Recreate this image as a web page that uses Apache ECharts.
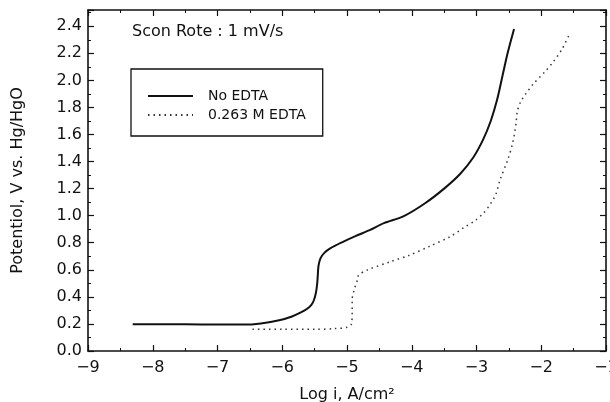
<!DOCTYPE html>
<html>
<head>
<meta charset="utf-8">
<script src="https://cdn.jsdelivr.net/npm/echarts@6/dist/echarts.min.js"></script>
<style>html,body{margin:0;padding:0;background:#fff}#c{width:610px;height:402px}</style>
</head>
<body>
<div id="c"></div>
<script>
const seriesNames = ['No EDTA', '0.263 M EDTA'];
const titleText = 'Scon Rote : 1 mV/s';
const xAxisName = 'Log i, A/cm²';
const yAxisName = 'Potentiol, V vs. Hg/HgO';

const noEdtaLogI = [-8.31, -7.5, -7.0, -6.6, -6.33, -6.03, -5.85, -5.72, -5.62, -5.55, -5.51, -5.48, -5.46, -5.45, -5.44, -5.41, -5.35, -5.26, -5.07, -4.87, -4.65, -4.43, -4.13, -3.80, -3.50, -3.25, -3.05, -2.90, -2.78, -2.68, -2.60, -2.52, -2.42];
const noEdtaV    = [0.197, 0.197, 0.196, 0.195, 0.204, 0.229, 0.255, 0.283, 0.31, 0.34, 0.377, 0.43, 0.50, 0.57, 0.63, 0.685, 0.725, 0.758, 0.805, 0.849, 0.893, 0.945, 0.995, 1.09, 1.20, 1.31, 1.43, 1.56, 1.70, 1.86, 2.03, 2.20, 2.38];

const edtaLogI = [-6.46, -6.0, -5.5, -5.2, -5.0, -4.93, -4.92, -4.92, -4.89, -4.84, -4.82, -4.69, -4.33, -4.05, -3.72, -3.41, -3.20, -3.02, -2.89, -2.78, -2.70, -2.64, -2.52, -2.44, -2.39, -2.37, -2.32, -2.24, -2.12, -1.95, -1.81, -1.68, -1.56];
const edtaV    = [0.16, 0.16, 0.16, 0.165, 0.175, 0.20, 0.30, 0.377, 0.45, 0.524, 0.561, 0.598, 0.66, 0.705, 0.775, 0.844, 0.91, 0.965, 1.02, 1.09, 1.16, 1.26, 1.41, 1.54, 1.68, 1.77, 1.84, 1.90, 1.975, 2.06, 2.14, 2.23, 2.346];

const xMin = -9, xMax = -1, xStep = 1;
const yMin = 0, yMax = 2.52, yStep = 0.2;

const pair = (xs, ys) => xs.map((x, i) => [x, ys[i]]);
const ink = '#111';
const font = 'DejaVu Sans';

function xLabel(v) {
  if (Math.abs(v - Math.round(v)) > 1e-6) return '';
  return String(Math.round(v)).replace('-', '\u2212');
}
function yLabel(v) {
  const k = v / yStep;
  if (Math.abs(k - Math.round(k)) > 1e-6) return '';
  return v.toFixed(1);
}

const baseAxis = {
  axisLine: { show: true, onZero: false, lineStyle: { color: ink, width: 1.6 } },
  splitLine: { show: false },
  axisTick: { show: true, inside: true, length: 6, lineStyle: { color: ink, width: 1.2 } },
  minorTick: { show: true, splitNumber: 2, length: 3, lineStyle: { color: ink, width: 1 } }
};

const chart = echarts.init(document.getElementById('c'), null, { renderer: 'canvas' });
chart.setOption({
  backgroundColor: '#fff',
  animation: false,
  color: [ink, '#333'],
  textStyle: { fontFamily: font, color: ink },
  title: {
    text: titleText, left: 132, top: 24, padding: 0,
    textStyle: { fontFamily: font, fontSize: 16, fontWeight: 'normal', color: ink }
  },
  legend: {
    orient: 'vertical', left: 131, top: 69,
    padding: [20, 17, 14, 16], itemGap: 5, itemWidth: 45, itemHeight: 14,
    borderColor: ink, borderWidth: 1.3, borderRadius: 0,
    itemStyle: { opacity: 0 },
    textStyle: { fontFamily: font, fontSize: 14, color: ink, padding: [0, 0, 0, 10] },
    data: seriesNames
  },
  grid: { left: 88, right: 4, top: 10, bottom: 51, containLabel: false, outerBoundsMode: 'none' },
  xAxis: [
    Object.assign({}, baseAxis, {
      type: 'value', min: xMin, max: xMax, interval: xStep, position: 'bottom',
      name: xAxisName, nameLocation: 'middle', nameGap: 36,
      nameTextStyle: { fontFamily: font, fontSize: 16, color: ink },
      axisLabel: { show: true, margin: 9, fontFamily: font, fontSize: 16, color: ink, formatter: xLabel, hideOverlap: false }
    }),
    Object.assign({}, baseAxis, {
      type: 'value', min: xMin, max: xMax, interval: xStep, position: 'top',
      axisLabel: { show: false }
    })
  ],
  yAxis: [
    Object.assign({}, baseAxis, {
      type: 'value', min: yMin, max: yMax, interval: yStep, position: 'left',
      name: yAxisName, nameLocation: 'middle', nameGap: 62, nameRotate: 90,
      nameTextStyle: { fontFamily: font, fontSize: 16, color: ink },
      axisLabel: { show: true, margin: 6, fontFamily: font, fontSize: 16, color: ink, formatter: yLabel }
    }),
    Object.assign({}, baseAxis, {
      type: 'value', min: yMin, max: yMax, interval: yStep, position: 'right',
      axisLabel: { show: false }
    })
  ],
  series: [
    {
      name: seriesNames[0], type: 'line', showSymbol: false, symbol: 'none',
      xAxisIndex: 0, yAxisIndex: 0, smooth: 0.3,
      itemStyle: { color: ink },
      lineStyle: { color: ink, width: 2, type: 'solid', opacity: 1 },
      data: pair(noEdtaLogI, noEdtaV)
    },
    {
      name: seriesNames[1], type: 'line', showSymbol: false, symbol: 'none',
      xAxisIndex: 0, yAxisIndex: 0, smooth: 0.3,
      itemStyle: { color: '#333' },
      lineStyle: { color: '#333', width: 1.5, type: [1.5, 4], opacity: 1 },
      data: pair(edtaLogI, edtaV)
    }
  ]
});
</script>
</body>
</html>
